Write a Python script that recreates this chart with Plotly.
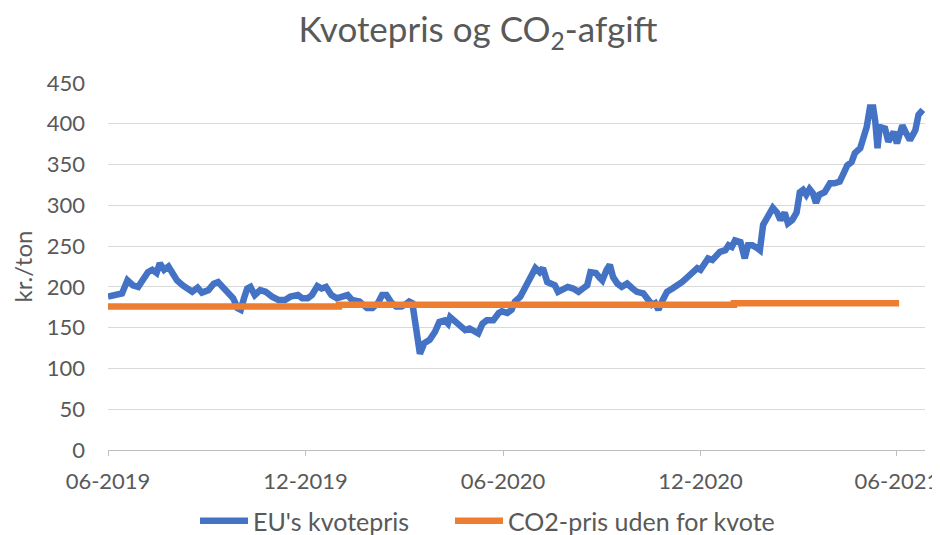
import plotly.graph_objects as go

# ---- data ----
kvote_dates = [
    "2019-06-01","2019-06-07","2019-06-14","2019-06-19","2019-06-24","2019-06-29","2019-07-03","2019-07-08",
    "2019-07-12","2019-07-16","2019-07-19","2019-07-23","2019-07-27","2019-07-31","2019-08-04","2019-08-09",
    "2019-08-13","2019-08-18","2019-08-23","2019-08-27","2019-09-02","2019-09-07","2019-09-11","2019-09-16",
    "2019-09-21","2019-09-25","2019-09-29","2019-10-02","2019-10-05","2019-10-08","2019-10-11","2019-10-15",
    "2019-10-20","2019-10-25","2019-10-31","2019-11-06","2019-11-12","2019-11-17","2019-11-24","2019-11-28",
    "2019-12-03","2019-12-07","2019-12-12","2019-12-16","2019-12-20","2019-12-25","2019-12-30","2020-01-04",
    "2020-01-09","2020-01-13","2020-01-20","2020-01-27","2020-02-01","2020-02-06","2020-02-10","2020-02-14",
    "2020-02-19","2020-02-23","2020-02-28","2020-03-02","2020-03-04","2020-03-06","2020-03-09","2020-03-11",
    "2020-03-13","2020-03-16","2020-03-20","2020-03-25","2020-03-30","2020-04-03","2020-04-08","2020-04-11",
    "2020-04-13","2020-04-17","2020-04-22","2020-04-27","2020-05-01","2020-05-06","2020-05-09","2020-05-13",
    "2020-05-17","2020-05-23","2020-05-28","2020-05-31","2020-06-05","2020-06-09","2020-06-12","2020-06-17",
    "2020-06-21","2020-06-26","2020-07-01","2020-07-05","2020-07-08","2020-07-12","2020-07-15","2020-07-19",
    "2020-07-22","2020-07-27","2020-07-31","2020-08-05","2020-08-10","2020-08-14","2020-08-18","2020-08-21",
    "2020-08-26","2020-08-29","2020-09-01","2020-09-05","2020-09-08","2020-09-11","2020-09-15","2020-09-19",
    "2020-09-24","2020-09-29","2020-10-03","2020-10-09","2020-10-14","2020-10-17","2020-10-20","2020-10-23",
    "2020-10-27","2020-10-31","2020-11-05","2020-11-10","2020-11-14","2020-11-19","2020-11-24","2020-11-28",
    "2020-12-01","2020-12-05","2020-12-08","2020-12-12","2020-12-15","2020-12-19","2020-12-24","2020-12-27",
    "2020-12-30","2021-01-02","2021-01-07","2021-01-10","2021-01-11","2021-01-14","2021-01-18","2021-01-22",
    "2021-01-25","2021-01-28","2021-02-01","2021-02-04","2021-02-06","2021-02-10","2021-02-13","2021-02-17",
    "2021-02-20","2021-02-24","2021-02-28","2021-03-03","2021-03-06","2021-03-09","2021-03-12","2021-03-15",
    "2021-03-18","2021-03-21","2021-03-26","2021-03-31","2021-04-04","2021-04-09","2021-04-12","2021-04-16",
    "2021-04-20","2021-04-23","2021-04-28","2021-05-01","2021-05-04","2021-05-07","2021-05-10","2021-05-12",
    "2021-05-14","2021-05-16","2021-05-21","2021-05-24","2021-05-29","2021-06-01","2021-06-06","2021-06-09",
    "2021-06-13","2021-06-18","2021-06-21","2021-06-25",
]
kvote_values = [
    188,190,192,208,202,200,208,218,
    221,217,229,221,225,217,208,202,
    198,194,199,193,196,204,206,198,
    193,186,174,172,186,198,200,190,
    196,194,188,184,184,188,190,186,
    186,190,201,198,200,190,186,188,
    190,184,182,174,174,180,190,190,
    180,176,176,178,180,182,180,163,
    147,118,131,135,145,157,159,155,
    163,159,153,147,149,145,143,155,
    159,159,168,170,168,172,182,188,
    198,212,223,218,223,206,204,202,
    194,198,200,198,194,198,202,218,
    217,212,208,221,227,212,204,200,
    204,198,194,192,184,178,180,172,
    184,194,198,202,206,212,217,223,
    221,229,235,233,237,243,245,251,
    249,257,255,239,235,251,251,248,
    245,276,284,292,297,291,282,291,
    278,282,291,316,319,313,320,315,
    303,313,316,327,327,329,337,349,
    353,364,370,382,396,420,420,402,
    370,396,394,378,390,376,398,390,
    380,392,411,417,
]

afgift_dates = ["2019-06-01", "2020-01-01", "2021-01-01", "2021-06-03"]
afgift_values = [176, 178, 180, 180]

series_names = ["EU's kvotepris", "CO2-pris uden for kvote"]
title_text = "Kvotepris og CO<sub>2</sub>-afgift"
y_title = "kr./ton"

FONT = "Lato, 'Open Sans', sans-serif"
GREY = "#595959"

# page body adds an 8px offset, so the figure is sized to fit the 940x535 window
W, H = 932, 527

fig = go.Figure()
fig.add_trace(go.Scatter(
    x=kvote_dates, y=kvote_values, name=series_names[0], mode="lines",
    line=dict(color="#4472C4", width=6.5), legend="legend",
))
fig.add_trace(go.Scatter(
    x=afgift_dates, y=afgift_values, name=series_names[1], mode="lines",
    line=dict(color="#ED7D31", width=6.5, shape="hv"), legend="legend2",
))

legend_common = dict(orientation="h", xanchor="left", xref="container",
                     y=1 - 513 / H, yref="container", yanchor="middle",
                     font=dict(size=25, color=GREY, family=FONT), itemwidth=48,
                     bgcolor="rgba(0,0,0,0)")

fig.update_layout(
    width=W, height=H,
    paper_bgcolor="white", plot_bgcolor="white",
    margin=dict(l=100, r=15, t=75, b=85),
    font=dict(family=FONT, color=GREY, size=22),
    title=dict(text=title_text, x=470 / W, xanchor="center", xref="container",
               y=1 - 22 / H, yref="container", yanchor="middle",
               font=dict(size=35, color=GREY, family=FONT)),
    legend=dict(x=187 / W, **legend_common),
    legend2=dict(x=442 / W, **legend_common),
    showlegend=True,
)
fig.update_xaxes(
    type="date", range=["2019-06-01", "2021-06-27"],
    tick0="2019-06-01", dtick="M6", tickformat="%m-%Y",
    showgrid=False, showline=True, linecolor="#BFBFBF", linewidth=1,
    ticks="outside", ticklen=5, tickcolor="#BFBFBF",
    tickfont=dict(size=22, color=GREY), zeroline=False,
    ticklabelstandoff=7, automargin=False,
)
fig.update_yaxes(
    range=[0, 450], dtick=50, tick0=0,
    showgrid=True, gridcolor="#D9D9D9", gridwidth=1,
    showline=False, zeroline=False, ticks="",
    tickfont=dict(size=22, color=GREY), ticklabelstandoff=22,
    title=dict(text=y_title, font=dict(size=24, color=GREY), standoff=12),
    automargin=False,
)

fig.write_html("out.html")
